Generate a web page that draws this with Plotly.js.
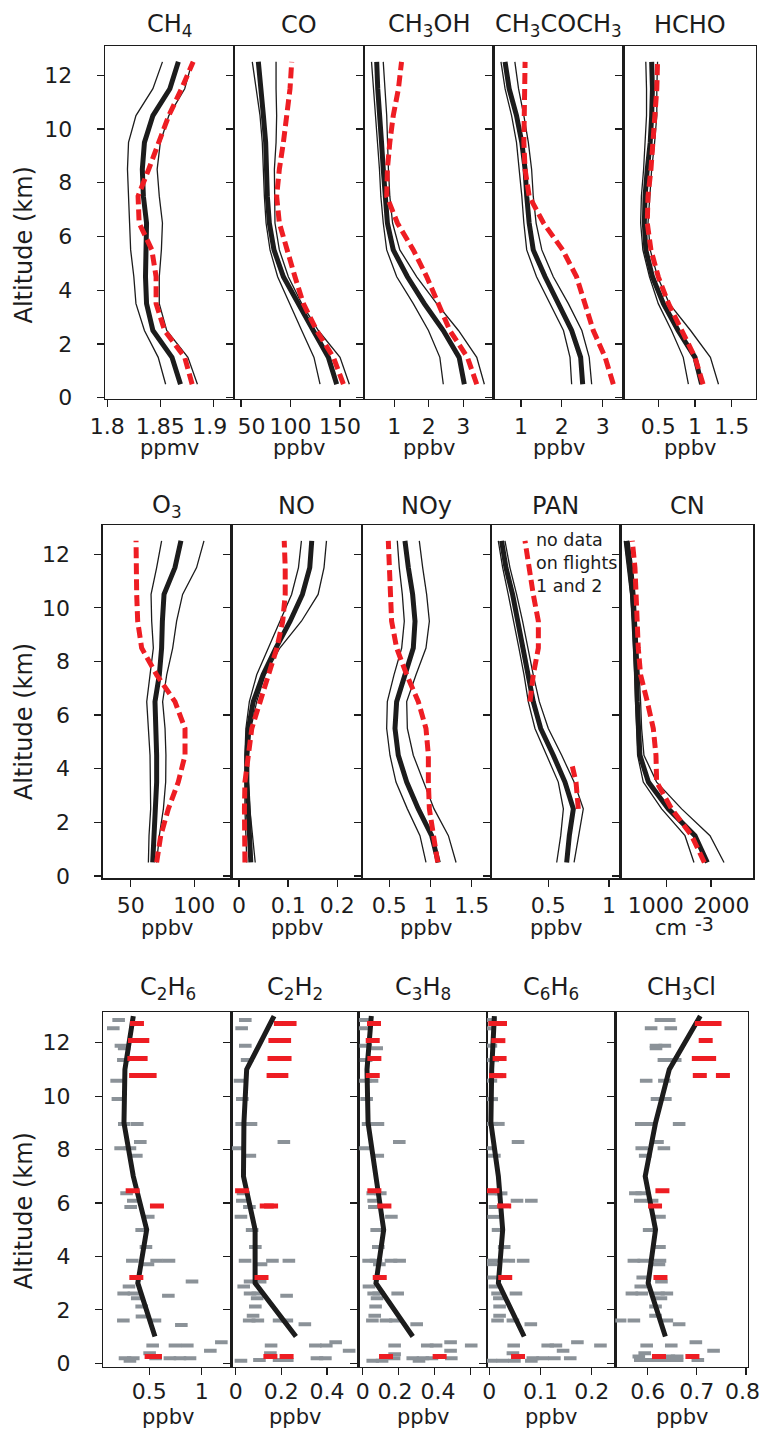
<!DOCTYPE html>
<html><head><meta charset="utf-8">
<script src="https://cdn.plot.ly/plotly-3.0.1.min.js"></script>
<style>html,body{margin:0;padding:0;background:#fff}</style>
</head><body><div id="chart" style="width:761px;height:1432px"></div>
<script>
// ---------- DATA ----------
const ALT = [0.5,1.5,2.5,3.5,4.5,5.5,6.5,7.5,8.5,9.5,10.5,11.5,12.5];

const ch4Mean = [1.869,1.861,1.843,1.837,1.836,1.837,1.837,1.834,1.833,1.835,1.843,1.859,1.867];
const ch4Lo   = [1.855,1.848,1.835,1.827,1.825,1.822,1.821,1.820,1.819,1.820,1.827,1.843,1.852];
const ch4Hi   = [1.885,1.876,1.856,1.849,1.849,1.851,1.852,1.849,1.847,1.850,1.858,1.873,1.880];
const ch4Red  = [1.880,1.873,1.854,1.846,1.846,1.842,1.830,1.829,1.839,1.848,1.858,1.870,1.881];

const coMean = [146.6,138.2,123.0,107.2,92.8,83.3,78.6,76.6,75.9,74.9,72.6,69.9,67.5];
const coLo   = [129.8,123.7,111.3,99.5,87.0,79.3,75.3,73.6,72.6,71.5,69.2,65.2,61.4];
const coHi   = [159.4,150.0,128.1,111.3,97.8,88.7,84.3,83.7,83.7,85.4,86.0,85.4,85.4];
const coRed  = [153.4,143.3,126.4,113.0,104.5,96.8,88.7,86.0,88.7,92.8,96.1,99.5,101.2];

const meohMean = [3.03,2.88,2.42,1.87,1.38,0.97,0.80,0.73,0.68,0.63,0.57,0.52,0.49];
const meohLo   = [2.42,2.32,1.99,1.55,1.07,0.78,0.68,0.61,0.57,0.51,0.44,0.39,0.34];
const meohHi   = [3.61,3.39,2.86,2.23,1.65,1.16,0.95,0.87,0.83,0.81,0.78,0.73,0.68];
const meohRed  = [3.39,3.12,2.61,2.26,1.94,1.55,1.09,0.78,0.80,0.87,0.97,1.12,1.21];

const acetMean = [2.51,2.46,2.24,1.91,1.59,1.30,1.20,1.14,1.10,1.02,0.89,0.71,0.61];
const acetLo   = [2.24,2.20,2.04,1.71,1.38,1.14,1.07,1.02,0.96,0.89,0.77,0.61,0.51];
const acetHi   = [2.73,2.67,2.49,2.16,1.79,1.51,1.37,1.30,1.26,1.18,1.07,0.94,0.85];
const acetRed  = [3.26,3.06,2.77,2.57,2.36,2.02,1.55,1.20,1.10,1.07,1.08,1.10,1.10];

const hchoMean = [1.09,1.00,0.77,0.57,0.42,0.33,0.31,0.32,0.35,0.39,0.41,0.42,0.41];
const hchoLo   = [0.91,0.84,0.68,0.50,0.38,0.29,0.26,0.27,0.30,0.32,0.34,0.34,0.33];
const hchoHi   = [1.32,1.21,0.94,0.65,0.49,0.39,0.36,0.38,0.41,0.45,0.48,0.48,0.49];
const hchoRed  = [1.11,1.00,0.82,0.64,0.50,0.40,0.35,0.36,0.40,0.43,0.46,0.48,0.49];

const o3Mean = [67.3,68.3,69.9,70.4,70.4,69.6,69.1,72.5,74.3,74.9,76.2,84.8,89.5];
const o3Lo   = [63.9,64.4,65.7,65.7,65.2,63.9,62.6,65.2,67.8,66.5,66.0,70.4,74.3];
const o3Hi   = [70.4,72.5,75.7,77.5,77.7,77.0,75.1,78.3,83.0,86.1,90.8,101.8,107.6];
const o3Red  = [70.4,73.6,79.6,87.4,92.7,92.7,84.8,70.4,58.6,55.5,54.7,54.7,54.2];

const noMean = [0.024,0.021,0.017,0.016,0.016,0.019,0.029,0.049,0.075,0.104,0.129,0.144,0.148];
const noLo   = [0.016,0.014,0.012,0.012,0.012,0.014,0.021,0.036,0.060,0.083,0.107,0.121,0.127];
const noHi   = [0.033,0.028,0.022,0.019,0.019,0.024,0.036,0.053,0.083,0.127,0.161,0.173,0.178];
const noRed  = [0.012,0.011,0.011,0.012,0.018,0.026,0.043,0.060,0.077,0.089,0.094,0.094,0.092];

const noyMean = [1.095,1.014,0.852,0.711,0.609,0.569,0.589,0.690,0.791,0.812,0.783,0.731,0.690];
const noyLo   = [0.945,0.872,0.719,0.581,0.508,0.468,0.476,0.557,0.650,0.682,0.658,0.621,0.597];
const noyHi   = [1.310,1.217,1.043,0.913,0.791,0.719,0.711,0.824,0.945,0.986,0.953,0.905,0.864];
const noyRed  = [1.087,1.034,0.986,0.974,0.974,0.945,0.852,0.711,0.589,0.528,0.516,0.500,0.488];

const panMean = [0.651,0.673,0.706,0.637,0.541,0.437,0.376,0.335,0.294,0.253,0.206,0.151,0.115];
const panLo   = [0.569,0.602,0.624,0.582,0.486,0.390,0.335,0.300,0.258,0.217,0.170,0.124,0.088];
const panHi   = [0.712,0.747,0.788,0.712,0.610,0.500,0.426,0.376,0.335,0.288,0.239,0.184,0.143];
const panRedAlt = [2.5,3.5,4.2,null,6.5,7.5,8.5,9.5,10.5,11.5,12.5];
const panRed    = [0.747,0.728,0.692,null,0.349,0.376,0.418,0.418,0.376,0.343,0.308];

const cnMean = [1918,1642,1045,600,410,373,351,336,313,284,246,187,112];
const cnLo   = [1619,1418,896,485,358,336,313,299,284,246,201,134,60];
const cnHi   = [2291,1978,1343,784,500,448,425,396,373,336,299,246,164];
const cnRed  = [1851,1567,1119,784,769,709,575,425,373,351,336,299,239];

// bottom row: median profiles at these altitudes
const ALT2 = [1,3,5,7,9,11,13];
const c2h6Line = [0.554,0.390,0.475,0.347,0.258,0.267,0.347];
const c2h2Line = [0.264,0.085,0.085,0.034,0.036,0.048,0.168];
const c3h8Line = [0.279,0.074,0.117,0.070,0.030,0.024,0.048];
const c6h6Line = [0.068,0.0176,0.026,0.0176,0.003,0.0046,0.0098];
const ch3clLine = [0.636,0.601,0.616,0.595,0.616,0.644,0.707];

// red samples [value, altitude]
const c2h6Red = [[0.382,12.72],[0.363,12.08],[0.433,12.08],[0.357,11.41],[0.417,11.41],[0.374,10.77],[0.503,10.77],[0.341,6.46],[0.573,5.89],[0.376,3.21],[0.522,0.25],[0.554,0.25]];
const c2h2Red = [[0.198,12.72],[0.236,12.72],[0.174,12.08],[0.212,12.08],[0.170,11.41],[0.214,11.41],[0.166,10.77],[0.200,10.77],[0.028,6.46],[0.136,5.89],[0.155,5.89],[0.113,3.21],[0.152,0.25],[0.223,0.25]];
const c3h8Red = [[0.063,12.72],[0.056,12.08],[0.065,11.41],[0.056,10.77],[0.065,6.46],[0.121,5.89],[0.095,3.21],[0.130,0.25],[0.429,0.25]];
const c6h6Red = [[0.0117,12.72],[0.0208,12.72],[0.0176,12.08],[0.020,11.41],[0.013,10.77],[0.0195,10.77],[0.006,6.46],[0.029,5.89],[0.031,3.21],[0.056,0.25]];
const ch3clRed = [[0.710,12.72],[0.736,12.72],[0.718,12.08],[0.704,11.41],[0.725,11.41],[0.706,10.77],[0.753,10.77],[0.630,6.46],[0.615,5.89],[0.626,3.21],[0.623,0.25],[0.691,0.25]];

// grey samples [value, altitude]
const c2h6Gray = [[0.207,12.85],[0.156,12.54],[0.229,11.89],[0.26,11.79],[0.252,11.35],[0.188,10.58],[0.200,9.89],[0.261,8.96],[0.385,8.96],[0.414,8.28],[0.226,8.05],[0.315,8.05],[0.376,7.77],[0.283,6.36],[0.347,6.08],[0.322,5.85],[0.49,5.48],[0.427,4.99],[0.468,4.35],[0.338,3.84],[0.57,3.84],[0.688,3.84],[0.487,3.71],[0.908,3.06],[0.306,2.87],[0.255,2.61],[0.353,2.61],[0.682,2.53],[0.385,2.43],[0.427,2.12],[0.43,1.75],[0.252,1.60],[0.554,1.60],[0.806,1.43],[1.188,0.79],[0.532,0.66],[0.745,0.66],[0.863,0.66],[1.083,0.47],[0.503,0.37],[0.268,0.19],[0.347,0.19],[0.56,0.19],[0.697,0.19],[0.793,0.19],[0.889,0.19],[0.315,0.09]];
const c2h2Gray = [[0.042,12.85],[0.026,12.54],[0.042,11.89],[0.05,11.35],[0.019,10.58],[0.029,9.89],[0.026,8.96],[0.067,8.96],[0.211,8.28],[0.01,8.05],[0.062,7.77],[0.032,6.36],[0.029,6.08],[0.06,5.85],[0.023,5.48],[0.072,4.99],[0.086,4.35],[0.041,3.84],[0.161,3.84],[0.233,3.84],[0.111,3.71],[0.063,3.06],[0.107,3.06],[0.035,2.87],[0.063,2.61],[0.097,2.61],[0.223,2.53],[0.094,2.43],[0.086,2.12],[0.076,1.78],[0.059,1.60],[0.097,1.60],[0.19,1.60],[0.224,1.60],[0.303,1.46],[0.438,0.79],[0.155,0.66],[0.349,0.66],[0.397,0.66],[0.497,0.47],[0.152,0.37],[0.356,0.19],[0.393,0.19],[0.19,0.12],[0.226,0.12],[0.104,0.12],[0.023,0.09]];
const c3h8Gray = [[0.011,12.85],[0.006,12.54],[0.017,11.89],[0.078,11.79],[0.019,11.35],[0.015,10.58],[0.052,10.58],[0.022,9.89],[0.03,8.96],[0.085,8.96],[0.204,8.28],[0.015,8.05],[0.084,7.77],[0.056,6.36],[0.098,6.36],[0.061,6.08],[0.065,5.85],[0.16,5.48],[0.078,4.99],[0.087,4.35],[0.033,3.84],[0.074,3.84],[0.158,3.84],[0.206,3.84],[0.093,3.71],[0.035,2.87],[0.061,2.61],[0.089,2.61],[0.195,2.61],[0.08,2.43],[0.072,2.12],[0.067,1.78],[0.054,1.60],[0.13,1.60],[0.182,1.60],[0.301,1.46],[0.49,0.79],[0.178,0.66],[0.36,0.66],[0.409,0.66],[0.605,0.66],[0.49,0.47],[0.178,0.34],[0.279,0.19],[0.336,0.19],[0.386,0.19],[0.494,0.19],[0.175,0.19],[0.056,0.09],[0.108,0.09],[0.314,0.09]];
const c6h6Gray = [[0.002,12.85],[0.0,12.54],[0.003,11.89],[0.0065,11.35],[0.003,10.58],[0.0046,9.89],[0.0046,8.96],[0.0176,8.96],[0.056,8.28],[0.0,8.05],[0.0098,7.77],[0.0098,6.36],[0.023,6.36],[0.054,6.08],[0.082,6.08],[0.011,5.85],[0.0085,5.48],[0.017,4.99],[0.029,4.35],[0.0065,3.84],[0.038,3.84],[0.066,3.84],[0.003,3.71],[0.0085,3.21],[0.011,2.87],[0.016,2.61],[0.052,2.61],[0.0195,2.43],[0.02,2.12],[0.02,1.78],[0.016,1.60],[0.046,1.60],[0.081,1.46],[0.172,0.79],[0.0475,0.66],[0.114,0.66],[0.13,0.66],[0.217,0.66],[0.144,0.47],[0.046,0.37],[0.085,0.19],[0.104,0.19],[0.127,0.19],[0.158,0.19],[0.003,0.09],[0.026,0.09],[0.049,0.09],[0.082,0.09]];
const ch3clGray = [[0.627,12.85],[0.644,12.85],[0.607,12.54],[0.647,12.54],[0.617,11.89],[0.635,11.89],[0.617,11.79],[0.633,11.35],[0.656,11.35],[0.597,10.58],[0.634,10.58],[0.619,9.89],[0.636,9.89],[0.587,8.96],[0.601,8.96],[0.664,8.96],[0.62,8.28],[0.588,8.05],[0.633,8.05],[0.595,7.77],[0.575,6.36],[0.588,6.36],[0.585,6.08],[0.609,6.08],[0.624,5.48],[0.603,4.99],[0.624,4.35],[0.572,3.84],[0.592,3.84],[0.625,3.84],[0.623,3.71],[0.59,3.21],[0.628,3.06],[0.586,2.87],[0.568,2.61],[0.588,2.61],[0.622,2.61],[0.639,2.61],[0.627,2.43],[0.616,2.12],[0.616,1.78],[0.544,1.60],[0.572,1.60],[0.639,1.60],[0.664,1.46],[0.698,0.79],[0.598,0.66],[0.648,0.66],[0.734,0.47],[0.594,0.37],[0.582,0.25],[0.643,0.25],[0.66,0.25],[0.585,0.12],[0.602,0.12],[0.622,0.12],[0.643,0.12],[0.66,0.12],[0.702,0.12]];

// labels
const titles = ["CH<sub>4</sub>","CO","CH<sub>3</sub>OH","CH<sub>3</sub>COCH<sub>3</sub>","HCHO",
                "O<sub>3</sub>","NO","NOy","PAN","CN",
                "C<sub>2</sub>H<sub>6</sub>","C<sub>2</sub>H<sub>2</sub>","C<sub>3</sub>H<sub>8</sub>","C<sub>6</sub>H<sub>6</sub>","CH<sub>3</sub>Cl"];
const units = ["ppmv","ppbv","ppbv","ppbv","ppbv","ppbv","ppbv","ppbv","ppbv","cm","ppbv","ppbv","ppbv","ppbv","ppbv"];
const cnUnitPower = "-3";
const xTicks = [[1.8,1.85,1.9],[50,100,150],[1,2,3],[1,2,3],[0.5,1,1.5],
                [50,100],[0,0.1,0.2],[0.5,1,1.5],[0.5,1],[1000,2000],
                [0.5,1],[0,0.2,0.4],[0,0.2,0.4,0.6],[0,0.1,0.2],[0.6,0.7,0.8]];
const S1 = "\u00a0", S3 = "\u00a0\u00a0\u00a0";
const xTickText = [["1.8","1.85","1.9"+S1],[S3+"50","100","150"],["1","2","3"],["1","2","3"],["0.5","1","1.5"],
                ["50","100"],["0","0.1","0.2"],["0.5","1","1.5"],["0.5","1"],["1000"+S3, S3+"2000"],
                ["0.5","1"],["0","0.2","0.4"],["0","0.2"+S1,S1+"0.4",""],["0","0.1","0.2"],["0.6","0.7","0.8"+S1]];
const yTicks = [0,2,4,6,8,10,12];
const yTickText = ["0","2","4","6","8","10","12"];
const altLabel = "Altitude (km)";
const panNote = "no data<br>on flights<br>1 and 2";

// ---------- LAYOUT GEOMETRY (pixels) ----------
const W = 761, H = 1432;
const FONT = "DejaVu Sans, Liberation Sans, Arial, sans-serif";
const BLACK = "#1c1c1c", RED = "#ee1d23", GRAY = "#8b9298";
const rowsPx = [[46,399],[525,878.3],[1012.3,1366.7]];
const yRanges = [[-0.05,13.09],[-0.09,13.09],[-0.13,13.14]];
const colsPx = [
  [[105,234],[234,364],[364,493.7],[493.7,623.7],[623.7,755.7]],
  [[102.7,231.7],[231.7,362],[362,491],[491,620.7],[620.7,753.3]],
  [[103.3,231.7],[231.7,358.7],[358.7,487],[487,615.3],[615.3,748]]
];
const xRanges = [[1.7978,1.9195],[42.93,174.2],[0.122,3.881],[0.332,3.514],[0.029,1.827],
                 [27.99,129.4],[-0.0149,0.2503],[0.1687,1.734],[0.028,1.096],[-20,2946],
                 [0.0605,1.287],[-0.0176,0.539],[-0.0223,0.693],[-0.0046,0.246],[0.5342,0.804]];

const profiles = [
  [ch4Mean,ch4Lo,ch4Hi,ch4Red],[coMean,coLo,coHi,coRed],[meohMean,meohLo,meohHi,meohRed],
  [acetMean,acetLo,acetHi,acetRed],[hchoMean,hchoLo,hchoHi,hchoRed],
  [o3Mean,o3Lo,o3Hi,o3Red],[noMean,noLo,noHi,noRed],[noyMean,noyLo,noyHi,noyRed],
  [panMean,panLo,panHi,panRed],[cnMean,cnLo,cnHi,cnRed]
];
const bottom = [
  [c2h6Line,c2h6Red,c2h6Gray],[c2h2Line,c2h2Red,c2h2Gray],[c3h8Line,c3h8Red,c3h8Gray],
  [c6h6Line,c6h6Red,c6h6Gray],[ch3clLine,ch3clRed,ch3clGray]
];

const px2x = p => p / W;
const px2y = p => 1 - p / H;

const traces = [];
const layout = {
  width: W, height: H, margin: {l:0,r:0,t:0,b:0},
  paper_bgcolor: "#fff", plot_bgcolor: "#fff", showlegend: false,
  font: {family: FONT, color: BLACK},
  annotations: []
};

const rowTitleY = [25, 506.5, 988];
const rowUnitY = [448, 928, 1417];
const rowAltY = [245, 721.7, 1211];
const rowStandoff = [0, 0, -2];

for (let i = 0; i < 15; i++) {
  const r = Math.floor(i / 5), c = i % 5, n = i + 1;
  const xs = 'x' + n, ys = 'y' + n;
  const xk = n === 1 ? 'xaxis' : 'xaxis' + n;
  const yk = n === 1 ? 'yaxis' : 'yaxis' + n;
  const cp = colsPx[r][c], rp = rowsPx[r];
  layout[xk] = {
    domain: [px2x(cp[0]), px2x(cp[1])], range: xRanges[i], anchor: ys,
    showline: true, mirror: true, linecolor: BLACK, linewidth: 1.3,
    ticks: 'outside', ticklen: 7, tickwidth: 1.3, tickcolor: BLACK,
    tickvals: xTicks[i], ticktext: xTickText[i], tickangle: 0,
    ticklabeloverflow: 'allow',
    tickfont: {size: 22, family: FONT, color: BLACK},
    ticklabelstandoff: rowStandoff[r],
    showgrid: false, zeroline: false, fixedrange: true
  };
  layout[yk] = {
    domain: [px2y(rp[1]), px2y(rp[0])], range: yRanges[r], anchor: xs,
    showline: true, mirror: true, linecolor: BLACK, linewidth: 1.3,
    ticks: 'outside', ticklen: 7, tickwidth: 1.3, tickcolor: BLACK,
    tickvals: yTicks, ticktext: yTickText, showticklabels: c === 0,
    tickfont: {size: 22, family: FONT, color: BLACK},
    ticklabelstandoff: 20,
    showgrid: false, zeroline: false, fixedrange: true
  };
  const cx = (cp[0] + cp[1]) / 2;
  layout.annotations.push({
    xref: 'paper', yref: 'paper', x: px2x(cx), y: px2y(rowTitleY[r]),
    xanchor: 'center', yanchor: 'middle', showarrow: false,
    text: titles[i], font: {size: 24, family: FONT, color: BLACK}
  });
  layout.annotations.push({
    xref: 'paper', yref: 'paper', x: px2x(i === 9 ? 670.5 : cx), y: px2y(rowUnitY[r]),
    xanchor: 'center', yanchor: 'middle', showarrow: false,
    text: units[i], font: {size: 21, family: FONT, color: BLACK}
  });

  if (r < 2) {
    const p = profiles[i];
    traces.push({x: p[1], y: ALT, xaxis: xs, yaxis: ys, mode: 'lines', line: {color: BLACK, width: 1.3}, hoverinfo: 'skip'});
    traces.push({x: p[2], y: ALT, xaxis: xs, yaxis: ys, mode: 'lines', line: {color: BLACK, width: 1.3}, hoverinfo: 'skip'});
    traces.push({x: p[0], y: ALT, xaxis: xs, yaxis: ys, mode: 'lines', line: {color: BLACK, width: 5}, hoverinfo: 'skip'});
    const redAlt = (i === 8) ? panRedAlt : ALT;
    traces.push({x: p[3], y: redAlt, xaxis: xs, yaxis: ys, mode: 'lines', connectgaps: false,
                 line: {color: RED, width: 5, dash: '11px,5px'}, hoverinfo: 'skip'});
  } else {
    const b = bottom[c];
    traces.push({x: b[2].map(d => d[0]), y: b[2].map(d => d[1]), xaxis: xs, yaxis: ys, mode: 'markers',
                 marker: {symbol: 'line-ew', size: 9, color: GRAY, line: {color: GRAY, width: 4}}, hoverinfo: 'skip'});
    traces.push({x: b[0], y: ALT2, xaxis: xs, yaxis: ys, mode: 'lines', line: {color: BLACK, width: 5}, hoverinfo: 'skip'});
    traces.push({x: b[1].map(d => d[0]), y: b[1].map(d => d[1]), xaxis: xs, yaxis: ys, mode: 'markers',
                 marker: {symbol: 'line-ew', size: 10, color: RED, line: {color: RED, width: 5}}, hoverinfo: 'skip'});
  }
}

// CN unit exponent, slightly raised
layout.annotations.push({
  xref: 'paper', yref: 'paper', x: px2x(704), y: px2y(924),
  xanchor: 'center', yanchor: 'middle', showarrow: false,
  text: cnUnitPower, font: {size: 19, family: FONT, color: BLACK}
});

for (let r = 0; r < 3; r++) {
  layout.annotations.push({
    xref: 'paper', yref: 'paper', x: px2x(23.5), y: px2y(rowAltY[r]),
    xanchor: 'center', yanchor: 'middle', showarrow: false, textangle: -90,
    text: altLabel, font: {size: 24, family: FONT, color: BLACK}
  });
}
layout.annotations.push({
  xref: 'paper', yref: 'paper', x: px2x(534), y: px2y(528),
  xanchor: 'left', yanchor: 'top', align: 'left', showarrow: false,
  text: panNote, font: {size: 17.5, family: FONT, color: BLACK}
});

Plotly.newPlot('chart', traces, layout, {staticPlot: true, displayModeBar: false});
</script></body></html>
